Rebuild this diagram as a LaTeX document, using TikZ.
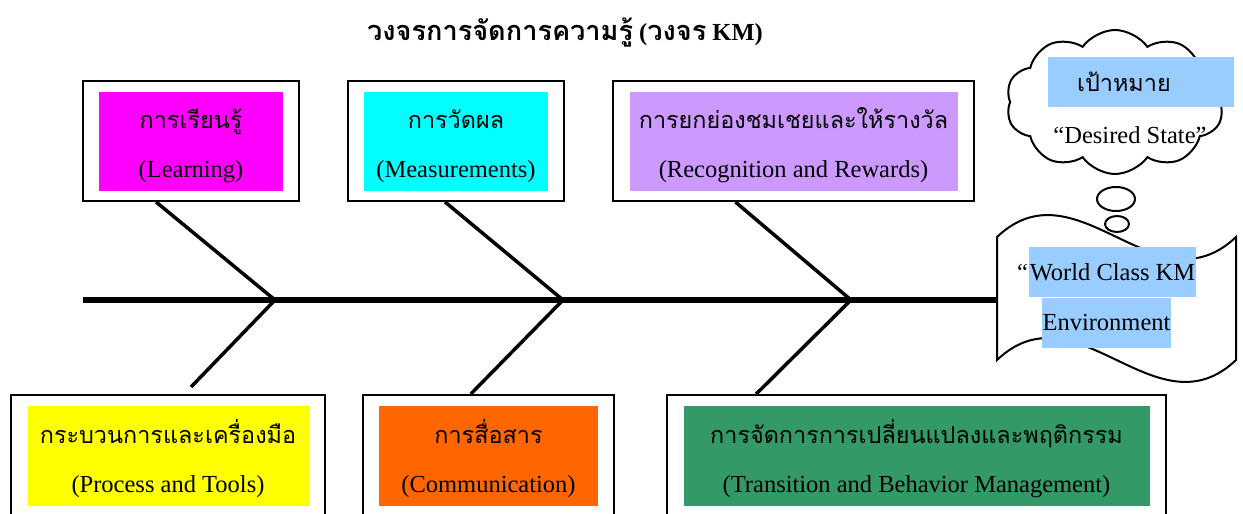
\documentclass[tikz,border=0pt]{standalone}
\usepackage{fontspec}
\setmainfont{Liberation Serif}
\newfontfamily\thaifont[Script=Thai, Scale=0.955]{Loma}
\usepackage{xcolor}
\usepackage{tikz}
\usetikzlibrary{positioning, calc, shapes.geometric, shapes.symbols}
\definecolor{kmMagenta}{HTML}{FF00FF}
\definecolor{kmCyan}{HTML}{00FFFF}
\definecolor{kmLilac}{HTML}{CC99FF}
\definecolor{kmYellow}{HTML}{FFFF00}
\definecolor{kmOrange}{HTML}{FF6600}
\definecolor{kmGreen}{HTML}{339966}
\definecolor{kmBlue}{HTML}{99CCFF}
\newcommand{\kmstrut}{\rule{0pt}{14.6pt}}
\tikzstyle{fish.frame} = [rectangle, draw=black, line width=1pt, fill=white, minimum height=60pt]
\tikzstyle{fish.topic} = [rectangle, inner sep=0pt, align=center, minimum height=49.5pt]
\tikzstyle{fish.bone} = [line width=1.75pt, black]
\tikzstyle{fish.spine} = [line width=2.7pt, black]
\tikzstyle{fish.mark} = [rectangle, fill=kmBlue, inner xsep=0.5pt, inner ysep=0pt, minimum height=25pt]
\tikzstyle{fish.outline} = [draw=black, line width=1pt, fill=white]

\begin{document}
\begin{tikzpicture}[x=0.5pt, y=-0.5pt, font=\fontsize{12.25}{14.7}\selectfont]
\useasboundingbox (0,0) rectangle (1243,514);

\node[font=\fontsize{12.25}{14.7}\selectfont\bfseries] (title) at (565,33) {{\fontsize{14.2}{16}\selectfont\thaifont วงจรการจัดการความรู้} ({\fontsize{14.2}{16}\selectfont\thaifont วงจร} KM)};

% top row
\node[fish.frame, minimum width=108pt] (learnbox) at (191,141) {};
\node[fish.frame, minimum width=108pt, right=23.5pt of learnbox] (measbox) {};
\node[fish.frame, minimum width=180.5pt, right=23.5pt of measbox] (recogbox) {};
\node[fish.topic, fill=kmMagenta, minimum width=92pt] (learn) at (learnbox) {\kmstrut{\thaifont การเรียนรู้}\\[10pt](Learning)};
\node[fish.topic, fill=kmCyan, minimum width=92pt] (meas) at (measbox) {\kmstrut{\thaifont การวัดผล}\\[10pt](Measurements)};
\node[fish.topic, fill=kmLilac, minimum width=164pt] (recog) at (recogbox) {\kmstrut{\thaifont การยกย่องชมเชยและให้รางวัล}\\[10pt](Recognition and Rewards)};

% bottom row
\node[fish.frame, minimum width=157pt, minimum height=61pt] (procbox) at (168,456) {};
\node[fish.frame, minimum width=125.5pt, minimum height=61pt, right=18pt of procbox] (commbox) {};
\node[fish.frame, minimum width=249.5pt, minimum height=61pt, right=25.5pt of commbox] (transbox) {};
\node[fish.topic, fill=kmYellow, minimum width=140.5pt, minimum height=50pt] (proc) at (procbox) {\kmstrut{\thaifont กระบวนการและเครื่องมือ}\\[10pt](Process and Tools)};
\node[fish.topic, fill=kmOrange, minimum width=109.5pt, minimum height=50pt] (comm) at (commbox) {\kmstrut{\thaifont การสื่อสาร}\\[10pt](Communication)};
\node[fish.topic, fill=kmGreen, minimum width=233pt, minimum height=50pt] (trans) at (transbox) {\kmstrut{\thaifont การจัดการการเปลี่ยนแปลงและพฤติกรรม}\\[10pt](Transition and Behavior Management)};

% goal
\node[cloud, fish.outline, cloud puffs=10, cloud puff arc=110, cloud ignores aspect, minimum width=109pt, minimum height=72pt] (goalcloud) at (1115,102) {};
\node[fish.mark, minimum width=93pt, text width=64pt, inner xsep=14.5pt, align=left] (goal) at (1141,82) {\thaifont เป้าหมาย};
\node (desired) at (1130,135) {“Desired State”};
\node[ellipse, fish.outline, inner sep=0pt, minimum width=19pt, minimum height=12pt] (bubbleA) at (1116,199) {};
\node[ellipse, fish.outline, inner sep=0pt, minimum width=12pt, minimum height=8pt] (bubbleB) at (1117,224) {};

% document
\coordinate (head) at (997,300);
\coordinate (tail) at (83,300);
\draw[fish.outline] (997,237) .. controls (1077,161) and (1156,313) .. (1236,237) -- (1236,360)
  .. controls (1156,436) and (1077,284) .. (997,360) -- cycle;
\node[fish.mark, label={[inner sep=0pt]left:“}] (world) at (1112.5,272) {World Class KM};
\node[fish.mark] (env) at (1106.5,323) {Environment};

% spine and bones
\coordinate (j1) at (275,300);
\coordinate (j2) at (563,300);
\coordinate (j3) at (851,300);
\coordinate (proctip) at (191,387);
\draw[fish.spine] (tail) -- (head);
\draw[fish.bone] ($(learnbox.south west)!.34!(learnbox.south east)$) -- (j1) -- (proctip);
\draw[fish.bone] ($(measbox.south west)!.45!(measbox.south east)$) -- (j2) -- ($(commbox.north west)!.43!(commbox.north east)$);
\draw[fish.bone] ($(recogbox.south west)!.34!(recogbox.south east)$) -- (j3) -- ($(transbox.north west)!.18!(transbox.north east)$);
\end{tikzpicture}
\end{document}
